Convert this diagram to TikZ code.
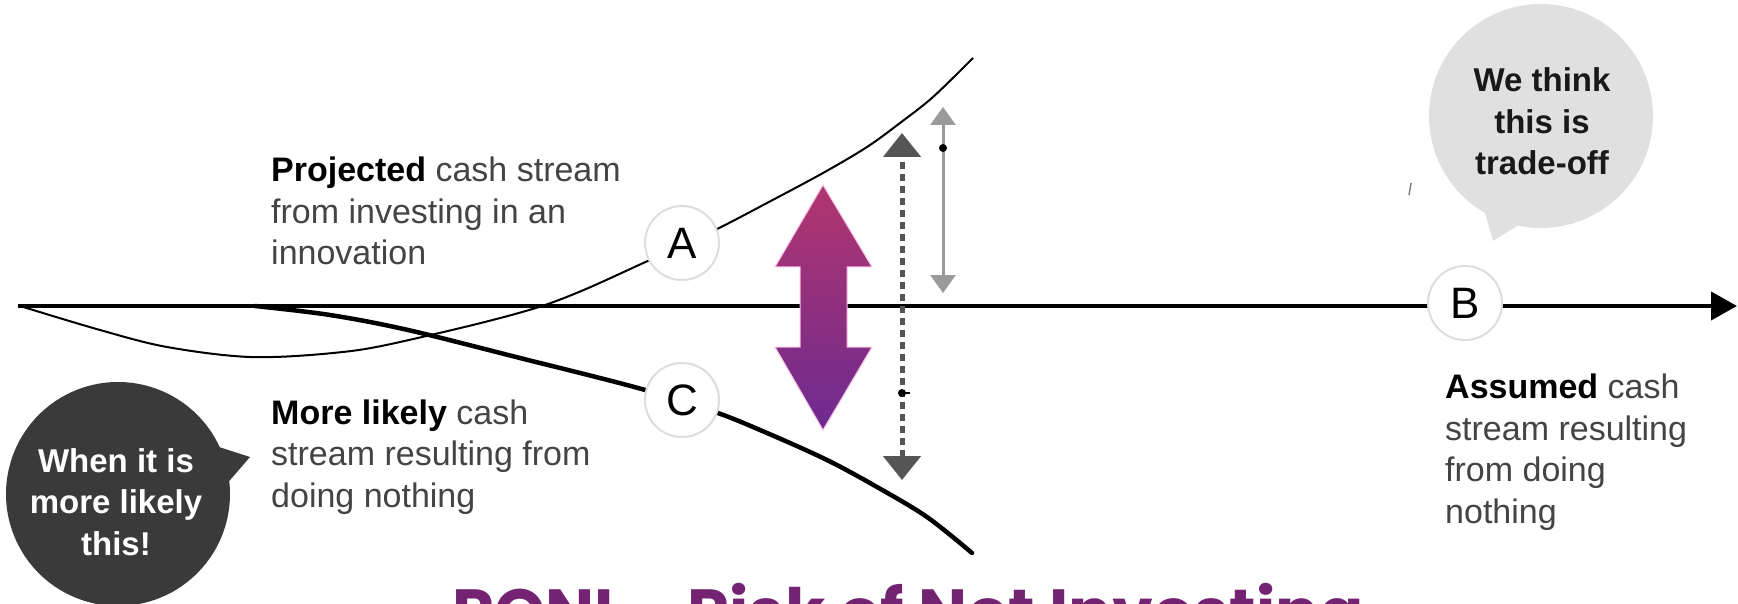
\documentclass[tikz,border=0pt]{standalone}
\usepackage{fontspec}
\setmainfont{Liberation Sans}
\newfontfamily\titlefont{Poppins}
\usetikzlibrary{arrows.meta,shapes.callouts,shapes.geometric}
\definecolor{txtgray}{HTML}{444444}
\definecolor{bubbledark}{HTML}{3A3A3A}
\definecolor{bubblelight}{HTML}{E0E0E0}
\definecolor{arrowtop}{HTML}{B2366E}
\definecolor{arrowbot}{HTML}{6C2A90}
\definecolor{titlepurple}{HTML}{732372}
\definecolor{darkarrow}{HTML}{555555}
\definecolor{lightarrow}{HTML}{9A9A9A}
\definecolor{ringgray}{HTML}{DDDDDD}
\begin{document}
\begin{tikzpicture}[x=1pt,y=-1pt,
  lbl/.style={circle, fill=white, draw=ringgray, line width=2pt, minimum size=74pt, inner sep=0pt, font=\fontsize{44}{44}\selectfont},
  desc/.style={anchor=base west, align=left, inner sep=0pt, text=txtgray, font=\fontsize{34}{41.5}\selectfont},
  thincurve/.style={line width=2pt, black},
  thickcurve/.style={line width=4.5pt, black, line cap=round},
  axisline/.style={line width=4pt, black, -{Triangle[length=26pt,width=28pt]}},
  bubble/.style={ellipse callout, minimum width=224pt, minimum height=224pt, inner sep=0pt, callout pointer arc=18},
  bubbletext/.style={anchor=base, align=center, inner sep=0pt, font=\bfseries\fontsize{33}{41.5}\selectfont},
]
\useasboundingbox (0,0) rectangle (1738,604);
\clip (0,0) rectangle (1738,604);
\fill[white] (0,0) rectangle (1738,604);

% curves
\draw[thincurve] plot[smooth, tension=0.55] coordinates {(20,306) (100,330) (167,347) (250,357) (333,353) (400,342) (542,306) (650,260) (715,230) (767,203) (823,173) (867,147) (900,123) (933,97) (973,58)};
\draw[thickcurve] plot[smooth, tension=0.55] coordinates {(255,306) (330,315) (408,330) (520,358) (638,388) (715,412) (767,433) (827,460) (877,487) (927,517) (972,553)};

% axis
\coordinate (axstart) at (18,306);
\coordinate (axend) at (1737,306);
\draw[axisline] (axstart) -- (axend);

% purple double arrow
\shade[top color=arrowtop, bottom color=arrowbot, draw=magenta!25, line width=1pt]
  (823,185) -- (872,267) -- (847,267) -- (847,347) -- (872,347) -- (823,430)
  -- (775,347) -- (800,347) -- (800,267) -- (775,267) -- cycle;

% dotted dark arrow
\coordinate (dtop) at (902,133);
\coordinate (dbot) at (902,480);
\draw[line width=5pt, darkarrow, dash pattern=on 7pt off 5pt,
  {Triangle[length=24pt,width=37pt]}-{Triangle[length=24pt,width=37pt]}] (dbot) -- (dtop);
\fill[black] (902,393) circle (4pt);
\draw[black, line width=1.5pt] (902,393) -- (910,393);

% light gray arrow
\coordinate (gtop) at (943,107);
\coordinate (gbot) at (943,293);
\draw[line width=3pt, lightarrow,
  {Triangle[length=18pt,width=25pt]}-{Triangle[length=18pt,width=25pt]}] (gbot) -- (gtop);
\fill[black] (943,148) circle (4pt);

% labels
\node[lbl] (A) at (682,243) {A};
\node[lbl] (C) at (682,400) {C};
\node[lbl] (B) at (1465,303) {B};

% texts (anchored at the baseline of the last line)
\node[desc] (proj) at (271,265) {{\bfseries\color{black}Projected} cash stream\\from investing in an\\innovation};
\node[desc] (likely) at (271,507) {{\bfseries\color{black}More likely} cash\\stream resulting from\\doing nothing};
\node[desc] (assumed) at (1445,523) {{\bfseries\color{black}Assumed} cash\\stream resulting\\from doing\\nothing};

% bubbles
\node[bubble, fill=bubblelight, callout absolute pointer={(1493,241)}] (think) at (1541,116) {};
\node[bubbletext, text=black!90] (thinktext) at (1542,175) {We think\\this is\\trade-off};
\node[bubble, fill=bubbledark, callout absolute pointer={(250,457)}] (when) at (118,494) {};
\node[bubbletext, text=white] (whentext) at (116,555) {When it is\\more likely\\this!};

% stray mark
\draw[gray, line width=1.5pt] (1411,183) -- (1409,195);

% title
\node[anchor=base west, inner sep=0pt, text=titlepurple, font=\titlefont\bfseries\fontsize{65.2}{66}\selectfont] (title) at (452,635) {RONI – Risk of Not Investing};
\end{tikzpicture}
\end{document}
